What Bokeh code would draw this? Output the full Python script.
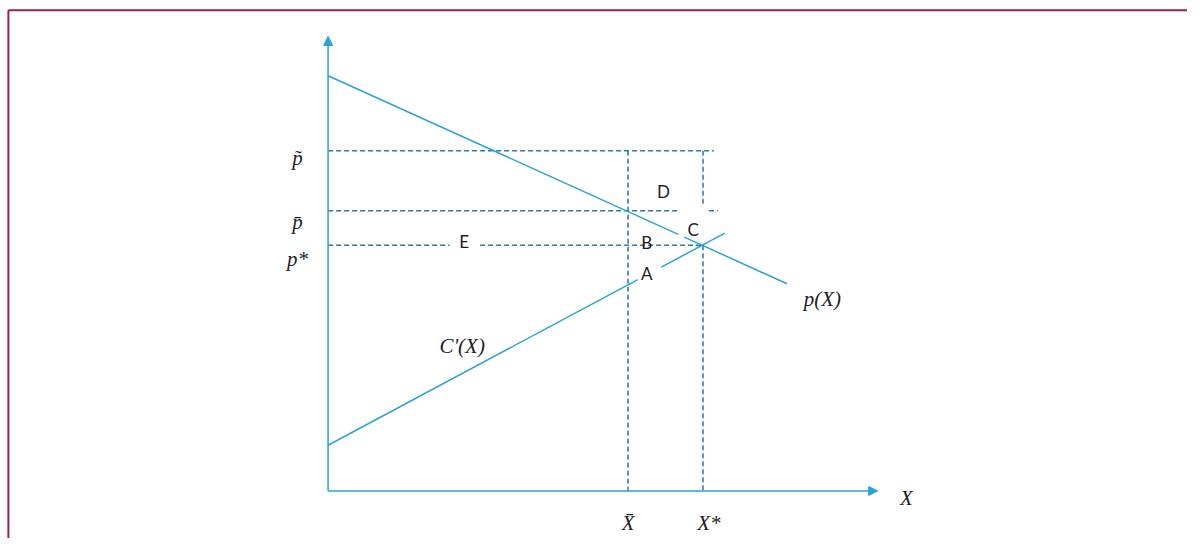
from bokeh.plotting import figure
from bokeh.models import Arrow, NormalHead, Range1d
from bokeh.core.properties import value
from bokeh.embed import file_html
from bokeh.resources import INLINE

# ---------------- data (arbitrary units) ----------------
X_bar = 8.0          # quantity X-bar
X_star = 10.0        # equilibrium quantity X*
p_star = 10.0        # equilibrium price p*
p_bar = 11.4         # price p-bar
p_tilde = 13.85      # price p-tilde

# demand curve p(X) (two pieces, broken near label C)
demand_x = [0.0, 9.34, 9.50, 12.24]
demand_p = [16.9, 10.44, 10.33, 8.43]
# marginal cost C'(X) (two pieces, broken near label A)
mc_x = [0.0, 8.26, 8.89, 10.58]
mc_p = [1.86, 8.60, 9.11, 10.49]

area_labels = ["A", "B", "C", "D", "E"]
price_labels = ["p\u0303", "p\u0304", "p*"]
qty_labels = ["X\u0304", "X*"]

# ---------------- layout helpers (reference pixels -> data) ----------------
W, H = 1187, 538           # figure size
RW, RH = 1203, 554         # reference picture size
OX, OY = 332.0, 505.0      # origin in reference pixels
XS, YS = 38.0, 25.3        # reference pixels per unit


def dx(rx):
    return (rx - OX) / XS


def dy(ry):
    return (OY - ry) / YS


SOLID = "#29a1d9"
DASH = "#2f74b8"
FRAME = "#9c1f4c"
INK = "#1e1e1e"
SERIF = value("Liberation Serif")
SANS = value("Lato")

p = figure(width=W, height=H, output_backend="svg", toolbar_location=None,
           x_range=Range1d(dx(0), dx(RW)),
           y_range=Range1d(dy(RH), dy(0)),
           x_axis_location=None, y_axis_location=None, min_border=0)
p.grid.visible = False
p.outline_line_color = None
p.background_fill_color = "white"
p.border_fill_color = "white"

# frame lines (top and left edges of the picture)
p.segment(x0=[dx(8), dx(8)], y0=[dy(10), dy(10)], x1=[dx(RW + 5), dx(8)],
          y1=[dy(10), dy(RH + 5)], line_color=FRAME, line_width=2)

# axes with arrow heads
p.add_layout(Arrow(end=NormalHead(size=9, fill_color=SOLID, line_color=SOLID, line_width=1),
                   x_start=0, y_start=0, x_end=0, y_end=dy(37),
                   line_color=SOLID, line_width=1.5))
p.add_layout(Arrow(end=NormalHead(size=9, fill_color=SOLID, line_color=SOLID, line_width=1),
                   x_start=0, y_start=0, x_end=dx(889), y_end=0,
                   line_color=SOLID, line_width=1.5))

# dashed guide lines
gx0 = [0, 0, dx(718), 0, dx(486), X_bar, X_star, X_star]
gx1 = [dx(723), dx(687), dx(727), dx(455), X_star, X_bar, X_star, X_star]
gy0 = [p_tilde, p_bar, p_bar, p_star, p_star, p_tilde, p_tilde, p_star]
gy1 = [p_tilde, p_bar, p_bar, p_star, p_star, 0, dy(210), 0]
p.segment(x0=gx0, y0=gy0, x1=gx1, y1=gy1, line_color=DASH, line_width=1.5,
          line_dash="5 3")

# curves
p.multi_line(xs=[demand_x[0:2], demand_x[2:4]], ys=[demand_p[0:2], demand_p[2:4]],
             line_color=SOLID, line_width=1.5)
p.multi_line(xs=[mc_x[0:2], mc_x[2:4]], ys=[mc_p[0:2], mc_p[2:4]],
             line_color=SOLID, line_width=1.5)

# price labels on the vertical axis
p.text(x=[dx(301)] * 3, y=[dy(162), dy(228), dy(266)], text=price_labels,
       text_font=SERIF, text_font_style="italic", text_font_size="21px",
       text_align="center", text_baseline="alphabetic", text_color=INK)
# quantity labels
p.text(x=[X_bar, dx(718)], y=[dy(538), dy(538)], text=qty_labels,
       text_font=SERIF, text_font_style="italic", text_font_size="21px",
       text_align="center", text_baseline="alphabetic", text_color=INK)
p.text(x=[dx(918)], y=[dy(512)], text=["X"],
       text_font=SERIF, text_font_style="italic", text_font_size="21px",
       text_align="center", text_baseline="alphabetic", text_color=INK)
# curve labels
p.text(x=[dx(833), dx(468)], y=[dy(307), dy(356)], text=["p(X)", "C'(X)"],
       text_font=SERIF, text_font_style="italic", text_font_size="21px",
       text_align="center", text_baseline="alphabetic", text_color=INK)
# area labels
p.text(x=[dx(655), dx(655), dx(702), dx(672), dx(470)],
       y=[dy(281), dy(249), dy(236), dy(197), dy(248)],
       text=area_labels, text_font=SANS, text_font_size="17px",
       text_align="center", text_baseline="alphabetic", text_color=INK)

open("out.html", "w").write(file_html(p, INLINE))
